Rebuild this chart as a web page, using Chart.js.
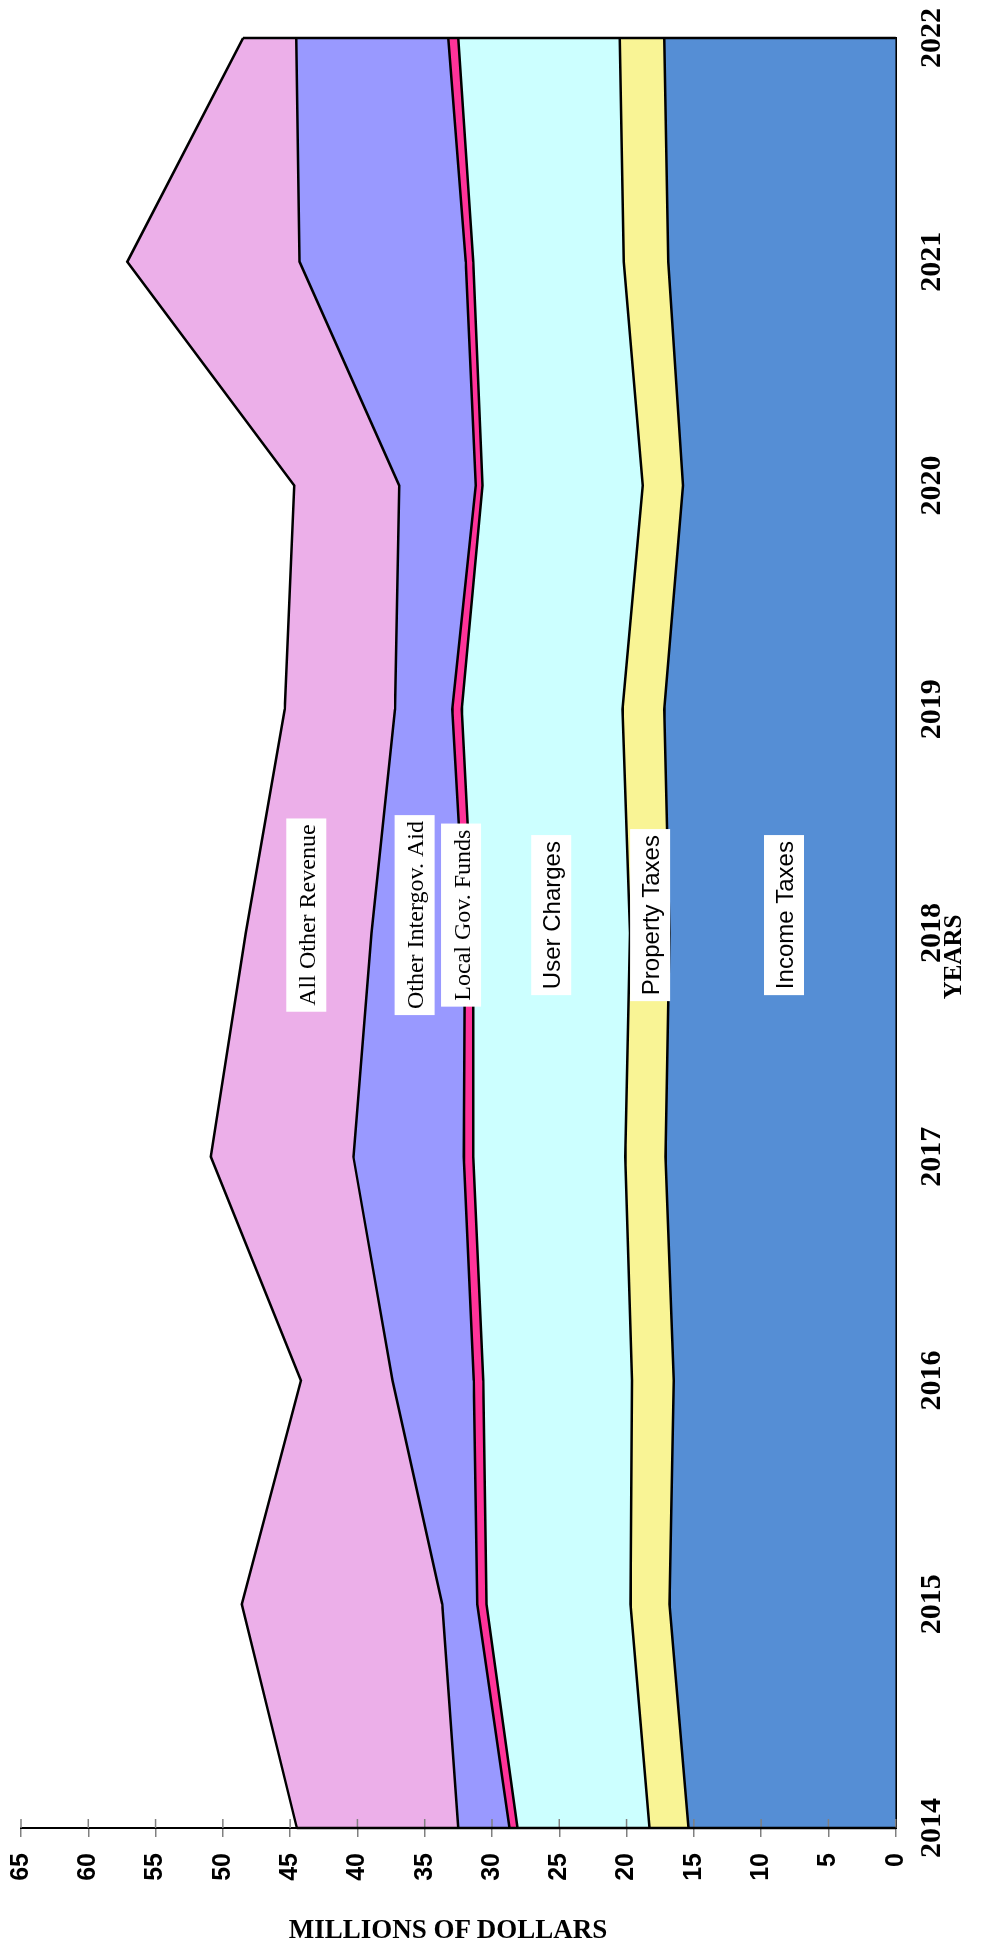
<!DOCTYPE html>
<html>
<head>
<meta charset="utf-8">
<title>Revenue by source</title>
<script src="https://cdn.jsdelivr.net/npm/chart.js@4.4.1/dist/chart.umd.min.js"></script>
<style>
  html, body { margin: 0; padding: 0; background: #fff; }
  body { width: 1004px; height: 1946px; position: relative; overflow: hidden; }
  /* the chart is drawn lying down and turned a quarter turn to the left */
  #turn { position: absolute; left: 0; top: 0; width: 1946px; height: 1004px;
          transform-origin: 0 0; transform: translateY(1946px) rotate(-90deg); }
  #turn canvas { width: 1946px; height: 1004px; }
  #valueTitle { position: absolute; left: 148px; top: 1916px; width: 600px; text-align: center;
          font: bold 27px/27px 'Liberation Serif', 'Times New Roman', serif; color: #000; }
</style>
</head>
<body>
<div id="turn"><canvas id="revenueChart" width="1946" height="1004"></canvas></div>
<div id="valueTitle">MILLIONS OF DOLLARS</div>
<script>
// data (millions of dollars), stacked from the bottom up
const years = ['2014', '2015', '2016', '2017', '2018', '2019', '2020', '2021', '2022'];
const incomeTaxes      = [15.4, 16.8, 16.5, 17.1, 16.8, 17.2, 15.8, 16.9, 17.2];
const propertyTaxes    = [2.9, 2.9, 3.1, 3.0, 2.95, 3.1, 3.0, 3.3, 3.3];
const userCharges      = [9.8, 10.7, 11.05, 11.3, 11.65, 11.95, 11.9, 11.2, 12.0];
const localGovFunds    = [0.6, 0.7, 0.7, 0.7, 0.6, 0.7, 0.5, 0.55, 0.75];
const otherIntergovAid = [3.8, 2.6, 6.05, 8.2, 6.95, 4.25, 5.7, 12.35, 11.3];
const allOtherRevenue  = [12.0, 14.9, 6.8, 10.6, 9.35, 8.2, 7.8, 12.8, 3.95];

const seriesNames = ['Income Taxes', 'Property Taxes', 'User Charges', 'Local Gov. Funds', 'Other Intergov. Aid', 'All Other Revenue'];
const seriesValues = [incomeTaxes, propertyTaxes, userCharges, localGovFunds, otherIntergovAid, allOtherRevenue];
const seriesColors = ['#558ED5', '#F9F495', '#CCFFFF', '#FF3399', '#9999FF', '#ECAFE9'];

const valueMax = 65;
const valueStep = 5;

// in-chart labels: placed just past the 2018 line (year index), at these levels (millions)
const labelAt = 4.08;
const labelLevels = [8.3, 18.25, 25.6, 32.3, 35.75, 43.8];
const labelSerif = [false, false, false, true, true, true];

const SERIF = "'Liberation Serif', 'Times New Roman', serif";
const SANS = "'Liberation Sans', Arial, sans-serif";

// closes the areas at both ends and draws the inner half of the value ticks
const edgePlugin = {
    id: 'areaEdges',
    afterDatasetsDraw(chart) {
        const { ctx, chartArea, scales } = chart;
        const topMeta = chart.getDatasetMeta(chart.data.datasets.length - 1);
        ctx.save();
        ctx.strokeStyle = '#808080';
        ctx.lineWidth = 1.5;
        scales.y.ticks.forEach(t => {
            const y = scales.y.getPixelForValue(t.value);
            ctx.beginPath();
            ctx.moveTo(chartArea.left, y);
            ctx.lineTo(chartArea.left + 9, y);
            ctx.stroke();
        });
        ctx.strokeStyle = '#000';
        ctx.lineWidth = 2.5;
        [0, years.length - 1].forEach(i => {
            const pt = topMeta.data[i];
            ctx.beginPath();
            ctx.moveTo(pt.x, chartArea.bottom);
            ctx.lineTo(pt.x, pt.y);
            ctx.stroke();
        });
        ctx.restore();
    }
};

// white boxed series names inside the areas, plus the year axis title
const labelPlugin = {
    id: 'areaLabels',
    afterDraw(chart) {
        const { ctx, scales, chartArea } = chart;
        const x = scales.x.getPixelForValue(labelAt);
        ctx.save();
        ctx.textAlign = 'center';
        seriesNames.forEach((name, i) => {
            const y = scales.y.getPixelForValue(labelLevels[i]);
            ctx.font = '24px ' + (labelSerif[i] ? SERIF : SANS);
            const w = ctx.measureText(name).width;
            ctx.fillStyle = '#fff';
            ctx.fillRect(x - w / 2 - 6, y - 20, w + 12, 40);
            ctx.fillStyle = '#000';
            ctx.textBaseline = 'alphabetic';
            ctx.fillText(name, x, y + 8.5);
        });
        ctx.font = 'bold 25px ' + SERIF;
        ctx.textBaseline = 'middle';
        ctx.fillText('YEARS', (chartArea.left + chartArea.right) / 2 - 24, 955);
        ctx.restore();
    }
};

const datasets = seriesNames.map((name, i) => ({
    label: name,
    data: seriesValues[i],
    backgroundColor: seriesColors[i],
    borderColor: '#000',
    borderWidth: 2.5,
    pointRadius: 0,
    tension: 0,
    fill: i === 0 ? 'origin' : '-1'
}));

new Chart(document.getElementById('revenueChart').getContext('2d'), {
    type: 'line',
    data: { labels: years, datasets: datasets },
    options: {
        responsive: false,
        animation: false,
        layout: { padding: { top: 21, right: 38, left: 0, bottom: 0 } },
        plugins: {
            legend: { display: false },
            tooltip: { enabled: false },
            filler: { drawTime: 'beforeDatasetsDraw' }
        },
        scales: {
            x: {
                offset: false,
                grid: { display: false, drawTicks: false },
                border: { display: true, color: '#000', width: 3 },
                ticks: {
                    color: '#000', padding: 19, maxRotation: 0, autoSkip: false,
                    font: { family: SERIF, weight: 'bold', size: 30 }
                },
                afterFit: s => { s.height = 108.3; s.paddingLeft = 0; s.paddingRight = 0; }
            },
            y: {
                stacked: true,
                min: 0,
                max: valueMax,
                grid: { drawOnChartArea: false, drawTicks: true, tickLength: 9, color: '#808080', lineWidth: 1.5 },
                border: { display: true, color: '#000', width: 2 },
                ticks: {
                    stepSize: valueStep, color: '#000', padding: 16,
                    font: { family: SANS, weight: 'bold', size: 25 }
                },
                afterFit: s => { s.width = 118; s.paddingTop = 0; s.paddingBottom = 0; }
            }
        }
    },
    plugins: [edgePlugin, labelPlugin]
});
</script>
</body>
</html>
